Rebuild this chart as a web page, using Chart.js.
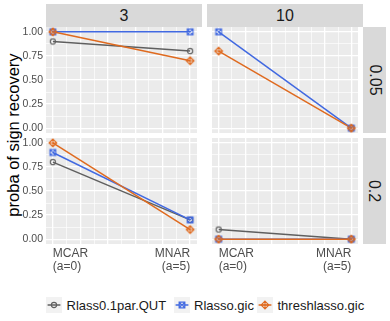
<!DOCTYPE html>
<html><head><meta charset="utf-8">
<script src="https://cdn.jsdelivr.net/npm/chart.js@4/dist/chart.umd.min.js"></script>
<style>
html,body{margin:0;padding:0;background:#fff;}
#wrap{position:relative;width:390px;height:321px;overflow:hidden;font-family:"Liberation Sans",Arial,sans-serif;}
#wrap canvas.panel{position:absolute;}
.strip{position:absolute;background:#D9D9D9;color:#1A1A1A;font-size:16px;display:flex;align-items:center;justify-content:center;}
.strip span{display:block;white-space:nowrap;}
.rot span{transform:rotate(90deg);}
#ytitle{position:absolute;left:13px;top:135px;transform:translate(-50%,-50%) rotate(-90deg);font-size:16.5px;color:#000;white-space:nowrap;}
.lkey{position:absolute;top:297px;width:16px;height:16px;background:#F2F2F2;}
.ltxt{position:absolute;top:305px;transform:translateY(-50%);font-size:13px;color:#1A1A1A;white-space:nowrap;}
</style></head>
<body><div id="wrap"><div id="ytitle">proba of sign recovery</div></div>
<script>
// ---- data ----
const categories = ["MCAR\n(a=0)", "MNAR\n(a=5)"];
const aValues = [0, 5];
const colFacets = ["3", "10"];
const rowFacets = ["0.05", "0.2"];
const seriesNames = ["Rlass0.1par.QUT", "Rlasso.gic", "threshlasso.gic"];
const yTickValues = [0, 0.25, 0.5, 0.75, 1];
const yTickLabels = ["0.00", "0.25", "0.50", "0.75", "1.00"];
const yMinorValues = [0.125, 0.375, 0.625, 0.875];
const xGridValues = [0, 0.5, 1, 1.5, 2, 2.5, 3, 3.5, 4, 4.5, 5];

// panel (col facet, row facet)
const qut_3_005  = [0.9, 0.8];
const gic_3_005  = [1.0, 1.0];
const thr_3_005  = [1.0, 0.7];
const qut_10_005 = [null, 0.0];
const gic_10_005 = [1.0, 0.0];
const thr_10_005 = [0.8, 0.0];
const qut_3_02   = [0.8, 0.2];
const gic_3_02   = [0.9, 0.2];
const thr_3_02   = [1.0, 0.1];
const qut_10_02  = [0.1, 0.0];
const gic_10_02  = [0.0, 0.0];
const thr_10_02  = [0.0, 0.0];

const panelData = [
  [[qut_3_005, gic_3_005, thr_3_005], [qut_10_005, gic_10_005, thr_10_005]],
  [[qut_3_02, gic_3_02, thr_3_02],    [qut_10_02, gic_10_02, thr_10_02]]
];

// ---- styles ----
const colors = ["#5F5F5F", "#4169E1", "#DF6A1F"];
const shapes = ["circle", "squareX", "diamondPlus"];
const PX = [[46, 202], [207, 363]];
const PY = [[27, 133], [138, 244]];
const FONT = '"Liberation Sans", Arial, sans-serif';

function drawMarker(ctx, kind, cx, cy, color) {
  ctx.save();
  ctx.strokeStyle = color; ctx.lineWidth = 1.1;
  ctx.beginPath();
  if (kind === "circle") {
    ctx.arc(cx, cy, 2.6, 0, Math.PI * 2);
  } else if (kind === "squareX") {
    const h = 2.9;
    ctx.rect(cx - h, cy - h, 2 * h, 2 * h);
    ctx.moveTo(cx - h, cy - h); ctx.lineTo(cx + h, cy + h);
    ctx.moveTo(cx + h, cy - h); ctx.lineTo(cx - h, cy + h);
  } else {
    const h = 3.9;
    ctx.moveTo(cx, cy - h); ctx.lineTo(cx + h, cy); ctx.lineTo(cx, cy + h); ctx.lineTo(cx - h, cy); ctx.closePath();
    ctx.moveTo(cx - h, cy); ctx.lineTo(cx + h, cy);
    ctx.moveTo(cx, cy - h); ctx.lineTo(cx, cy + h);
  }
  ctx.stroke();
  ctx.restore();
}
const markerImgs = shapes.map((s, i) => {
  const c = document.createElement("canvas");
  c.width = 12; c.height = 12;
  drawMarker(c.getContext("2d"), s, 6, 6, colors[i]);
  return c;
});

const bgPlugin = {
  id: "panelBg",
  beforeDraw(chart) {
    const a = chart.chartArea, ctx = chart.ctx;
    ctx.save(); ctx.fillStyle = "#EBEBEB";
    ctx.fillRect(a.left, a.top, a.right - a.left, a.bottom - a.top);
    ctx.restore();
  }
};
const xLabelPlugin = {
  id: "xLabels",
  afterDraw(chart) {
    if (!chart.options.plugins.xLabels || !chart.options.plugins.xLabels.show) return;
    const ctx = chart.ctx, xs = chart.scales.x, b = chart.chartArea.bottom;
    ctx.save();
    ctx.fillStyle = "#4D4D4D";
    ctx.font = "12px " + FONT;
    ctx.textBaseline = "middle";
    categories.forEach((lab, i) => {
      const px = xs.getPixelForValue(aValues[i]);
      ctx.textAlign = i === 0 ? "left" : "right";
      lab.split("\n").forEach((ln, j) => ctx.fillText(ln, px, b + 9.5 + j * 13.4));
    });
    ctx.restore();
  }
};

const wrap = document.getElementById("wrap");
const padT = 14;

for (let r = 0; r < 2; r++) {
  for (let c = 0; c < 2; c++) {
    const left = c === 0 ? 0 : PX[c][0];
    const width = PX[c][1] - left;
    const padB = r === 1 ? 34 : 14;
    const ph = PY[r][1] - PY[r][0];
    const cv = document.createElement("canvas");
    cv.className = "panel";
    cv.width = width; cv.height = ph + padT + padB;
    cv.style.left = left + "px"; cv.style.top = (PY[r][0] - padT) + "px";
    cv.style.width = width + "px"; cv.style.height = cv.height + "px";
    wrap.appendChild(cv);

    const series = panelData[r][c];
    const datasets = [];
    series.forEach((vals, i) => {
      const pts = vals.map((v, k) => ({ x: aValues[k], y: v }));
      datasets.push({ label: seriesNames[i], data: pts, borderColor: colors[i], borderWidth: 1.5,
        pointRadius: 0, showLine: true, spanGaps: false, order: 6 - i, fill: false });
    });
    series.forEach((vals, i) => {
      const pts = vals.map((v, k) => ({ x: aValues[k], y: v }));
      datasets.push({ label: seriesNames[i] + " pts", data: pts, borderColor: colors[i], showLine: false,
        pointStyle: markerImgs[i], pointRadius: 4, order: 3 - i });
    });

    new Chart(cv, {
      type: "scatter",
      data: { datasets },
      plugins: [bgPlugin, xLabelPlugin],
      options: {
        responsive: false, animation: false, events: [],
        layout: { padding: { left: 0, right: 0, top: padT, bottom: padB } },
        plugins: { legend: { display: false }, tooltip: { enabled: false }, xLabels: { show: r === 1 } },
        scales: {
          x: {
            type: "linear", min: -0.25, max: 5.25,
            afterBuildTicks: s => { s.ticks = xGridValues.map(v => ({ value: v })); },
            afterFit: s => { s.height = 0; },
            ticks: { display: false },
            border: { display: false },
            grid: { color: "#FFFFFF", drawTicks: false,
              lineWidth: ctx => (ctx.tick && Number.isInteger(ctx.tick.value)) ? 1.3 : 0.65 }
          },
          y: {
            type: "linear", min: -0.05, max: 1.05,
            afterBuildTicks: s => {
              s.ticks = yTickValues.concat(yMinorValues).sort((a, b) => a - b).map(v => ({ value: v }));
            },
            afterFit: s => { s.width = c === 0 ? PX[0][0] : 0; },
            ticks: {
              display: c === 0, autoSkip: false, padding: 3, color: "#4D4D4D",
              font: { family: FONT, size: 10.5 },
              callback: v => { const k = yTickValues.indexOf(v); return k >= 0 ? yTickLabels[k] : ""; }
            },
            border: { display: false },
            grid: { color: "#FFFFFF", drawTicks: false,
              lineWidth: ctx => (ctx.tick && yTickValues.indexOf(ctx.tick.value) >= 0) ? 1.3 : 0.65 }
          }
        }
      }
    });
  }
}

// strips
colFacets.forEach((t, c) => {
  const d = document.createElement("div");
  d.className = "strip";
  d.style.left = PX[c][0] + "px"; d.style.top = "4px";
  d.style.width = (PX[c][1] - PX[c][0]) + "px"; d.style.height = (PY[0][0] - 4) + "px";
  d.innerHTML = "<span>" + t + "</span>";
  wrap.appendChild(d);
});
rowFacets.forEach((t, r) => {
  const d = document.createElement("div");
  d.className = "strip rot";
  d.style.left = PX[1][1] + "px"; d.style.top = PY[r][0] + "px";
  d.style.width = "23px"; d.style.height = (PY[r][1] - PY[r][0]) + "px";
  d.innerHTML = "<span>" + t + "</span>";
  wrap.appendChild(d);
});

// legend
const keyLefts = [46, 174, 257];
const txtLefts = [66.5, 194, 277.5];
seriesNames.forEach((n, i) => {
  const k = document.createElement("canvas");
  k.className = "lkey"; k.width = 16; k.height = 16;
  k.style.position = "absolute"; k.style.left = keyLefts[i] + "px";
  const kc = k.getContext("2d");
  kc.fillStyle = "#F2F2F2"; kc.fillRect(0, 0, 16, 16);
  kc.strokeStyle = colors[i]; kc.lineWidth = 1.5;
  kc.beginPath(); kc.moveTo(1.6, 8); kc.lineTo(14.4, 8); kc.stroke();
  drawMarker(kc, shapes[i], 8, 8, colors[i]);
  wrap.appendChild(k);
  const t = document.createElement("div");
  t.className = "ltxt"; t.style.left = txtLefts[i] + "px";
  t.textContent = n;
  wrap.appendChild(t);
});
</script>
</body></html>
